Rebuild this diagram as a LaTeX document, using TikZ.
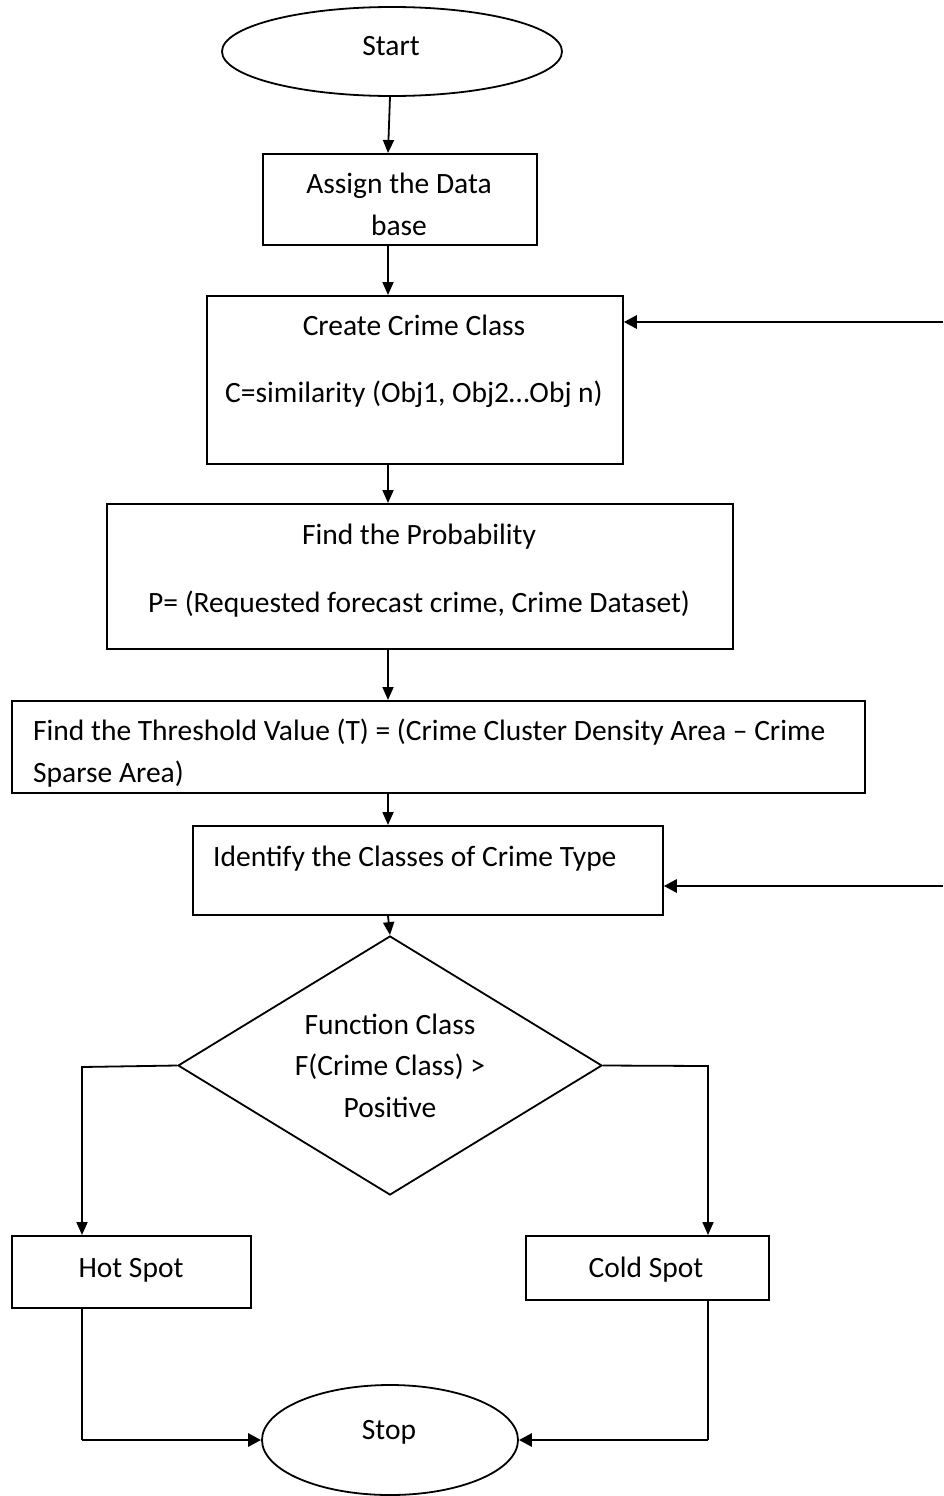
\documentclass[tikz,border=0pt]{standalone}
\usepackage{fontspec}
\setmainfont{Carlito}
\usetikzlibrary{shapes.geometric,arrows.meta}
\begin{document}
\begin{tikzpicture}[x=1pt,y=-1pt,
  box/.style={draw,line width=1.8pt,rectangle,inner sep=0pt,anchor=north west},
  term/.style={draw,line width=1.8pt,ellipse,inner sep=0pt},
  txt/.style={anchor=base,inner sep=0pt,align=center,font=\fontsize{29.5}{41.5}\selectfont},
  ltxt/.style={anchor=base west,inner sep=0pt,align=left,font=\fontsize{29.5}{41.5}\selectfont},
  arr/.style={line width=1.8pt,-{Triangle[length=13pt,width=11pt]}},
  thickarr/.style={line width=2.8pt,-{Triangle[length=13pt,width=13pt]}}]
\path[use as bounding box,fill=white] (0,0) rectangle (943,1496);
\coordinate (ax) at (388,0);
% Start
\node[term,minimum width=340pt,minimum height=89pt] (start) at (392,51.5) {};
\node[txt] (tstart) at (391,56) {Start};
% Assign
\node[box,minimum width=274pt,minimum height=91pt] (assign) at (262,153) {};
\node[txt] (tassign) at (399,235) {Assign the Data\\base};
% Create
\node[box,minimum width=416pt,minimum height=168pt] (create) at (206,295) {};
\node[txt] (tcreate) at (414,402) {Create Crime Class\\[25pt]C=similarity (Obj1, Obj2…Obj n)};
% Probability
\node[box,minimum width=626pt,minimum height=145pt] (prob) at (106,503) {};
\node[txt] (tprob) at (419,612) {Find the Probability\\[26pt]P= (Requested forecast crime, Crime Dataset)};
% Threshold
\node[box,minimum width=853pt,minimum height=92pt] (thr) at (11,700) {};
\begin{scope}
\clip (12,701) rectangle (863,788);
\node[ltxt] (tthr) at (33,782) {Find the Threshold Value (T) = (Crime Cluster Density Area – Crime\\Sparse Area)};
\end{scope}
% Identify
\node[box,minimum width=470pt,minimum height=89pt] (ident) at (192,825) {};
\node[ltxt] (tident) at (213,866) {Identify the Classes of Crime Type};
% Decision
\node[draw,line width=1.8pt,diamond,inner sep=0pt,minimum width=424pt,minimum height=259pt,shape aspect=1.637] (dia) at (390,1065.5) {};
\node[txt] (tdia) at (390,1117) {Function Class\\F(Crime Class) >\\Positive};
% Hot / Cold
\node[box,minimum width=239pt,minimum height=72pt] (hot) at (11,1235) {};
\node[txt] (thot) at (131,1277) {Hot Spot};
\node[box,minimum width=243pt,minimum height=64pt] (cold) at (525,1235) {};
\node[txt] (tcold) at (646,1277) {Cold Spot};
% Stop
\node[term,minimum width=256pt,minimum height=110pt] (stop) at (390,1440) {};
\node[txt] (tstop) at (389,1439) {Stop};
% connectors
\draw[arr] (start.south -| ax) ++(2,0) -- (assign.north -| ax);
\draw[arr] (assign.south -| ax) -- (create.north -| ax);
\draw[arr] (create.south -| ax) -- (prob.north -| ax);
\draw[arr] (prob.south -| ax) -- (thr.north -| ax);
\draw[arr] (thr.south -| ax) -- (ident.north -| ax);
\draw[arr] (ident.south -| ax) -- (dia.north);
\coordinate (r1) at (943,322);
\coordinate (r2) at (943,886);
\draw[thickarr] (r1) -- (r1 -| create.east);
\draw[thickarr] (r2) -- (r2 -| ident.east);
\coordinate (hl) at (82,1067);
\coordinate (hr) at (708,1066);
\draw[arr] (dia.west) -- (hl) -- (hl |- hot.north);
\draw[arr] (dia.east) -- (hr) -- (hr |- cold.north);
\draw[line width=1.8pt] (hl |- hot.south) -- (hl |- stop.west);
\draw[thickarr] (hl |- stop.west) -- (stop.west);
\draw[line width=1.8pt] (hr |- cold.south) -- (hr |- stop.east);
\draw[thickarr] (hr |- stop.east) -- (stop.east);
\end{tikzpicture}
\end{document}
